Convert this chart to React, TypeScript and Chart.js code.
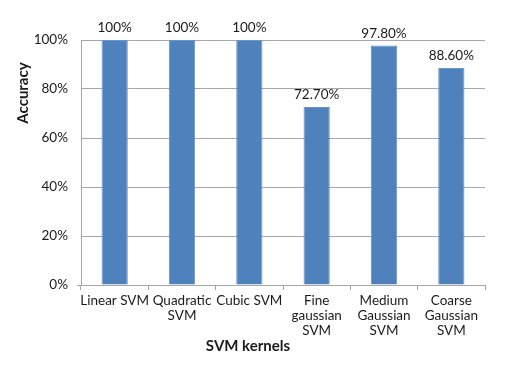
import React, { useEffect, useRef } from "react";
import { Chart, registerables } from "chart.js";

Chart.register(...registerables);

const categories: (string | string[])[] = [
  "Linear SVM",
  ["Quadratic", "SVM"],
  "Cubic SVM",
  ["Fine", "gaussian", "SVM"],
  ["Medium", "Gaussian", "SVM"],
  ["Coarse", "Gaussian", "SVM"],
];
const accuracy = [100, 100, 100, 72.7, 97.8, 88.6];
const valueLabels = ["100%", "100%", "100%", "72.70%", "97.80%", "88.60%"];
const yTicks = [0, 20, 40, 60, 80, 100];
const xTitle = "SVM kernels";
const yTitle = "Accuracy";

const FONT = "Lato, 'Open Sans', sans-serif";
const GRID = "#a6a6a6";
const TEXT = "#1a1a1a";

const overlayPlugin = {
  id: "overlay",
  afterDatasetsDraw(chart: any) {
    const ctx = chart.ctx;
    const meta = chart.getDatasetMeta(0);
    ctx.save();
    ctx.fillStyle = TEXT;
    ctx.font = `13.5px ${FONT}`;
    ctx.textAlign = "center";
    ctx.textBaseline = "middle";
    meta.data.forEach((bar: any, i: number) => {
      ctx.fillText(valueLabels[i], bar.x, bar.y - 12);
    });
    ctx.font = `bold 15px ${FONT}`;
    ctx.fillText(xTitle, 248, 346);
    ctx.translate(23, 93);
    ctx.rotate(-Math.PI / 2);
    ctx.fillText(yTitle, 0, 0);
    ctx.restore();
  },
};

export default function App() {
  const ref = useRef<HTMLCanvasElement>(null);
  useEffect(() => {
    if (!ref.current) return;
    const chart = new Chart(ref.current, {
      type: "bar",
      data: {
        labels: categories,
        datasets: [
          {
            data: accuracy,
            backgroundColor: "#4f81bd",
            borderColor: "#6a95c8",
            borderWidth: 1,
            categoryPercentage: 1,
            barPercentage: 0.39,
          },
        ],
      },
      options: {
        animation: false,
        responsive: false,
        maintainAspectRatio: false,
        layout: { padding: { top: 40, right: 25, bottom: 0, left: 0 } },
        plugins: {
          legend: { display: false },
          tooltip: { enabled: false },
        },
        scales: {
          x: {
            grid: {
              offset: true,
              drawOnChartArea: false,
              drawTicks: true,
              tickLength: 5,
              color: GRID,
            },
            border: { color: GRID },
            ticks: {
              color: TEXT,
              font: { family: FONT, size: 13.5, lineHeight: 1.12 },
              padding: 3,
              maxRotation: 0,
              autoSkip: false,
            },
            afterFit: (s: any) => {
              s.height = 81;
            },
          },
          y: {
            min: 0,
            max: 100,
            afterBuildTicks: (s: any) => {
              s.ticks = yTicks.map((v) => ({ value: v }));
            },
            grid: {
              color: GRID,
              tickLength: 4,
              tickColor: (c: any) => (c.tick && c.tick.value === 0 ? GRID : "rgba(0,0,0,0)"),
            },
            border: { color: GRID },
            ticks: {
              color: TEXT,
              font: { family: FONT, size: 13.5 },
              padding: 9,
              callback: (v: any) => `${v}%`,
            },
            afterFit: (s: any) => {
              s.width = 81;
            },
          },
        },
      },
      plugins: [overlayPlugin],
    });
    return () => chart.destroy();
  }, []);
  return (
    <div style={{ position: "fixed", left: 0, top: 0, width: 510, height: 366, background: "#fff" }}>
      <canvas ref={ref} width={510} height={366} style={{ display: "block" }} />
    </div>
  );
}
